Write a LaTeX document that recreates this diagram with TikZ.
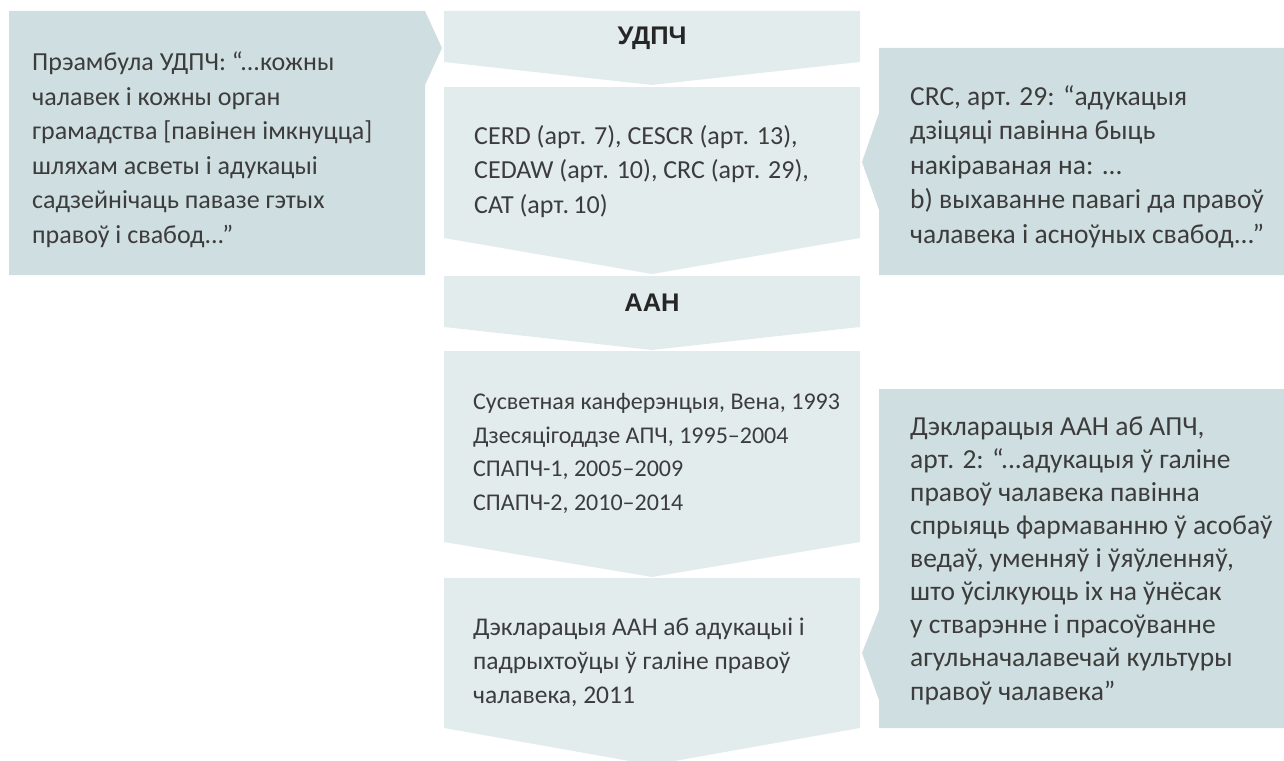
\documentclass[tikz,border=0pt]{standalone}
\usepackage{fontspec}
\setmainfont{Carlito}
\newfontfamily\hdfont{Liberation Sans}
\definecolor{pale}{HTML}{E2ECED}
\definecolor{quote}{HTML}{CFDEE1}
\definecolor{ink}{HTML}{3C3C3C}
\tikzset{
  txt/.style={anchor=base west,inner sep=0pt,align=left,text=ink,font=\fontsize{26}{34.5}\selectfont},
  head/.style={anchor=base,inner sep=0pt,text=black!85,font=\hdfont\bfseries\fontsize{25.5}{28}\selectfont}
}
\begin{document}
\begin{tikzpicture}[x=1pt,y=-1pt]
	\useasboundingbox (0,0) rectangle (1284,760);
	\foreach \t/\s/\p in {11/62/85,87/238/274,276/327/350,351/542/577,578/728/765}
		\fill[pale] (444,\t)--(860,\t)--(860,\s)--(652,\p)--(444,\s)--cycle;
	\fill[quote] (9,11)--(425,11)--(442,48)--(425,85)--(425,275)--(9,275)--cycle;
	\fill[quote] (879,48)--(1284,48)--(1284,275)--(879,275)--(879,210)--(862,162)--(879,113)--cycle;
	\fill[quote] (879,389)--(1284,389)--(1284,728)--(879,728)--(879,700)--(862,653)--(879,610)--cycle;
	\node[head] (udpch) at (652,45) {УДПЧ};
	\node[head] (aan) at (652,311) {ААН};
	\node[txt] (preamble) at (32,243) {Прэамбула УДПЧ: “...кожны\\чалавек і кожны орган\\грамадства [павінен імкнуцца]\\шляхам асветы і адукацыі\\садзейнічаць павазе гэтых\\правоў і свабод...”};
	\node[txt] (treaties) at (474,213) {CERD (арт. 7), CESCR (арт. 13),\\CEDAW (арт. 10), CRC (арт. 29),\\CAT (арт.\,10)};
	\node[txt,font=\fontsize{24}{33.5}\selectfont] (events) at (473,510) {Сусветная канферэнцыя, Вена, 1993\\Дзесяцігоддзе АПЧ, 1995–2004\\СПАПЧ-1, 2005–2009\\СПАПЧ-2, 2010–2014};
	\node[txt,font=\fontsize{25.5}{34}\selectfont] (decl) at (473,703) {Дэкларацыя ААН аб адукацыі і\\падрыхтоўцы ў галіне правоў\\чалавека, 2011};
	\node[txt,font=\fontsize{27.5}{34.5}\selectfont] (crc) at (910,243) {CRC, арт. 29: “адукацыя\\дзіцяці павінна быць\\накіраваная на: ...\\b) выхаванне павагі да правоў\\чалавека і асноўных свабод...”};
	\node[txt,font=\fontsize{27.5}{33.1}\selectfont] (art2) at (910,700) {Дэкларацыя ААН аб АПЧ,\\арт. 2: “...адукацыя ў галіне\\правоў чалавека павінна\\спрыяць фармаванню ў асобаў\\ведаў, уменняў і ўяўленняў,\\што ўсілкуюць іх на ўнёсак\\у стварэнне і прасоўванне\\агульначалавечай культуры\\правоў чалавека”};
\end{tikzpicture}
\end{document}
